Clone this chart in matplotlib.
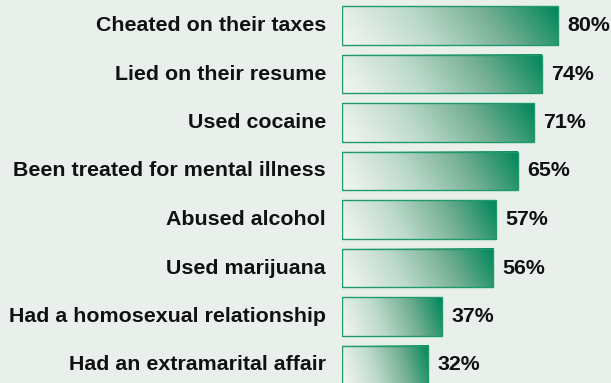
import numpy as np
import matplotlib.pyplot as plt
from matplotlib.colors import LinearSegmentedColormap

labels = ["Cheated on their taxes", "Lied on their resume", "Used cocaine",
          "Been treated for mental illness", "Abused alcohol", "Used marijuana",
          "Had a homosexual relationship", "Had an extramarital affair"]
values = [80, 74, 71, 65, 57, 56, 37, 32]

bg = "#e9efeb"
cmap = LinearSegmentedColormap.from_list("grn", ["#f3f5f3", "#bddacb", "#72ae92", "#00875a"])

fig = plt.figure(figsize=(6.11, 3.83), dpi=100, facecolor=bg)
ax = fig.add_axes([342 / 611, 0, 269 / 611, 1])
ax.set_facecolor(bg)
ax.axis("off")

h = 0.8
nx, ny = 200, 20
xx, yy = np.meshgrid(np.linspace(0, 1, nx), np.linspace(0, 1, ny))
for i, (lab, v) in enumerate(zip(labels, values)):
    # diagonal gradient, light on the left, green on the right
    grad = np.clip(xx * 0.88 + (1 - yy) * 0.12, 0, 1) ** 1.1
    ax.imshow(grad, cmap=cmap, extent=(0, v, i + h / 2, i - h / 2),
              aspect="auto", interpolation="bilinear", zorder=1)
    ax.add_patch(plt.Rectangle((0, i - h / 2), v, h, fill=False,
                               edgecolor="#1f9a6c", lw=1.0, zorder=2))
    ax.text(v + 3.5, i, f"{v}%", ha="left", va="center",
            fontsize=15.4, fontweight="bold", family="Liberation Sans", color="#111111")
    fig.text(326 / 611, 1 - (25.5 + i * 48.5) / 383, lab, ha="right", va="center",
             fontsize=15.4, fontweight="bold", family="Liberation Sans", color="#111111")

ax.set_xlim(0, 269 / 2.7)
ax.set_ylim(383 / 48.5 - 25.5 / 48.5, -25.5 / 48.5)
fig.savefig("out.png", dpi=100, facecolor=bg)
